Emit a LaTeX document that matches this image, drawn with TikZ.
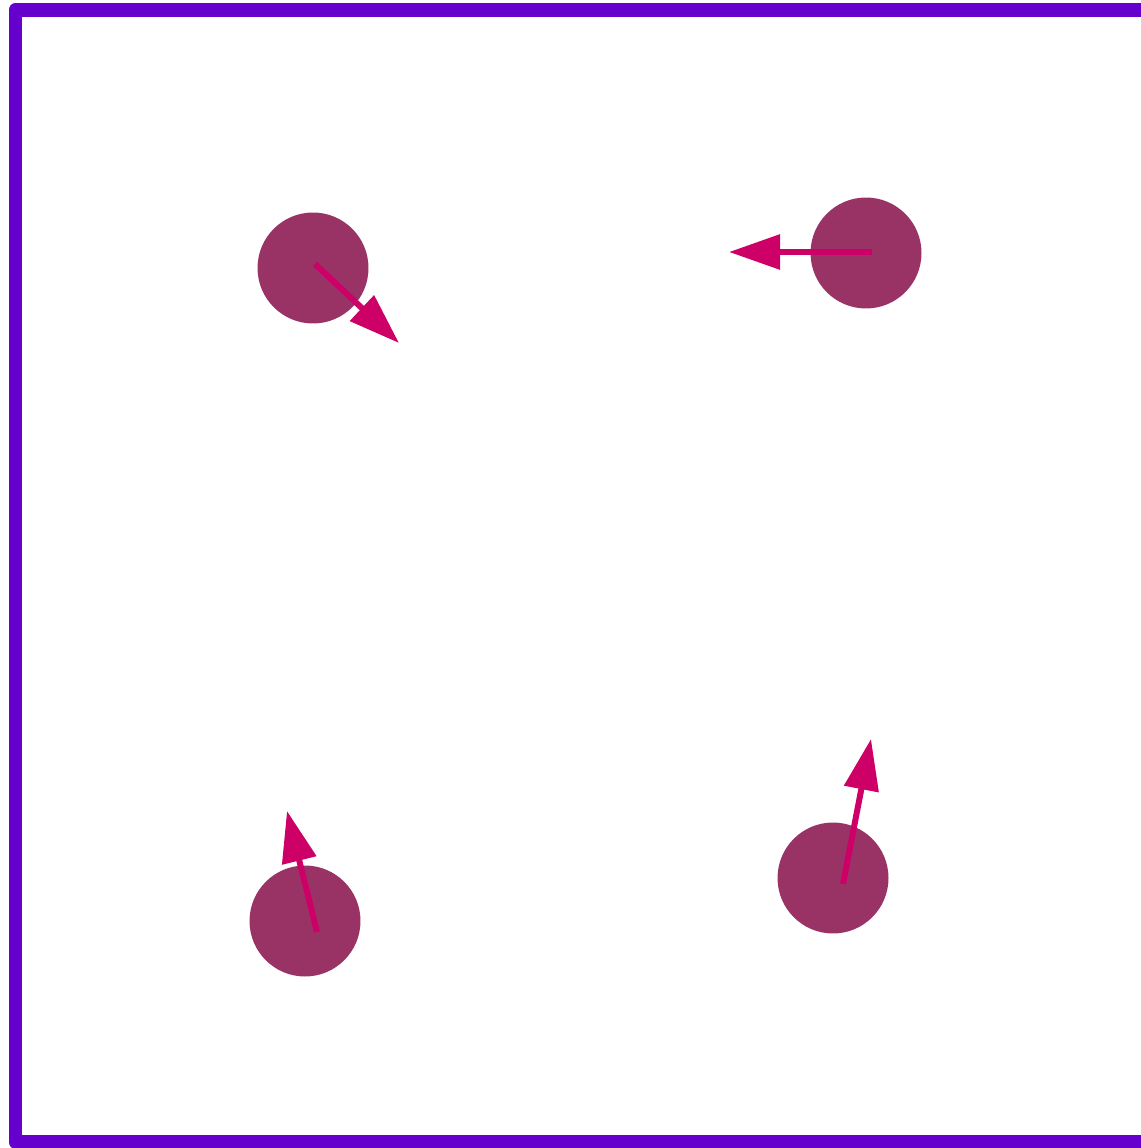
\documentclass[tikz,border=0pt]{standalone}
\usepackage{tikz}
\usetikzlibrary{arrows.meta}
\definecolor{boxpurple}{HTML}{6600CC}
\definecolor{ballplum}{HTML}{993366}
\definecolor{velpink}{HTML}{CC0066}
\begin{document}
\begin{tikzpicture}[x=0.02cm,y=-0.02cm,
  ball/.style={circle,fill=ballplum,draw=none,minimum size=2.22cm,inner sep=0pt},
  vel/.style={velpink,line width=0.12cm,-{Triangle[length=1.02cm,width=0.68cm]}}]
\useasboundingbox (0,0) rectangle (1141,1148);
% box walls
\draw[boxpurple,line width=0.28cm,line join=round] (1170,10) -- (15.5,10) -- (15.5,1142) -- (1170,1142);
% balls
\node[ball] (b1) at (313,268) {};
\node[ball] (b2) at (866,253) {};
\node[ball] (b3) at (305,921) {};
\node[ball] (b4) at (833,878) {};
% velocities
\coordinate (t1) at (315,264); \coordinate (h1) at (399,343);
\coordinate (t2) at (872,252); \coordinate (h2) at (729,252);
\coordinate (t3) at (317,932); \coordinate (h3) at (287,811);
\coordinate (t4) at (843,884); \coordinate (h4) at (871,739);
\draw[vel] (t1) -- (h1);
\draw[vel] (t2) -- (h2);
\draw[vel] (t3) -- (h3);
\draw[vel] (t4) -- (h4);
\end{tikzpicture}
\end{document}
